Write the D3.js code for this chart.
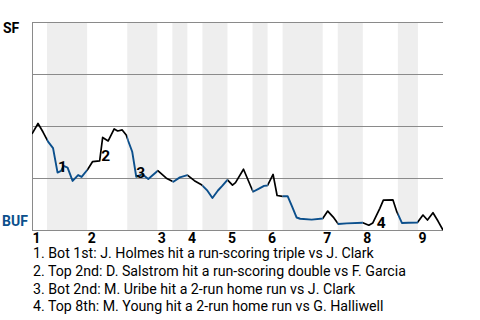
<!DOCTYPE html>
<html>
<head>
<meta charset="utf-8">
<script src="https://cdn.jsdelivr.net/npm/d3@7"></script>
<style>
  body { margin: 0; background: #fff; }
  text { font-family: Roboto, "Liberation Sans", sans-serif; }
</style>
</head>
<body>
<div id="chart"></div>
<script>
// half-inning boundaries, in plate appearances (top 1st starts at 0)
const halfInningBreaks = [0, 3, 11, 19, 25, 28, 31, 34, 39, 44, 47, 50, 58, 61, 66, 73, 77, 82];
const inningLabels = ["1", "2", "3", "4", "5", "6", "7", "8", "9"];

// win probability for SF
const eventIdx = [0, 1.2, 2.2, 3.2, 4.2, 5.1, 5.8, 6.3, 7.1, 8.1, 9.2, 9.9, 11.1, 12.1, 13.5, 14.1,
  15.2, 16.4, 17.1, 18.0, 18.8, 19.2, 20.0, 20.8, 22.0, 23.2, 25.1, 26.8, 28.2, 29.5, 31.0,
  32.4, 33.9, 34.9, 36.0, 37.1, 38.0, 39.0, 40.0, 40.6, 42.2, 44.1, 45.2, 46.3, 47.0, 48.1,
  48.9, 50.0, 51.0, 51.9, 52.8, 53.5, 55.8, 58.0, 59.0, 60.1, 61.1, 62.8, 66.0, 67.2, 68.0,
  69.4, 70.1, 72.0, 72.8, 73.8, 75.1, 76.9, 78.0, 78.9, 80.0, 81.0, 82.0];
const sfWinProb = [0.462, 0.512, 0.471, 0.425, 0.394, 0.276, 0.284, 0.308, 0.300, 0.236, 0.264,
  0.255, 0.291, 0.329, 0.332, 0.445, 0.428, 0.486, 0.476, 0.481, 0.457, 0.428, 0.376, 0.256,
  0.268, 0.245, 0.285, 0.249, 0.232, 0.253, 0.264, 0.237, 0.216, 0.192, 0.154, 0.190, 0.213,
  0.241, 0.216, 0.228, 0.292, 0.184, 0.198, 0.212, 0.214, 0.267, 0.166, 0.162, 0.163, 0.112,
  0.060, 0.054, 0.050, 0.055, 0.091, 0.062, 0.029, 0.032, 0.035, 0.023, 0.034, 0.104, 0.144,
  0.145, 0.087, 0.034, 0.035, 0.036, 0.072, 0.048, 0.083, 0.043, 0.0];

// key plays
const playIdx = [5.2, 13.8, 20.8, 68.8];
const playProb = [0.277, 0.332, 0.252, 0.012];
const playText = [
  "1. Bot 1st: J. Holmes hit a run-scoring triple vs J. Clark",
  "2. Top 2nd: D. Salstrom hit a run-scoring double vs F. Garcia",
  "3. Bot 2nd: M. Uribe hit a 2-run home run vs J. Clark",
  "4. Top 8th: M. Young hit a 2-run home run vs G. Halliwell"
];

const gridLevels = [0.25, 0.5, 0.75, 1];
const awayTeam = "SF", homeTeam = "BUF";

const width = 480, height = 320;
const margin = { top: 22, right: 37, bottom: 90, left: 32 };
const blue = "#0b4f8c";

const svg = d3.select("#chart").append("svg")
  .attr("width", width)
  .attr("height", height);

const x = d3.scaleLinear()
  .domain([0, d3.max(halfInningBreaks)])
  .range([margin.left, width - margin.right]);
const y = d3.scaleLinear()
  .domain([0, 1])
  .range([height - margin.bottom, margin.top]);

const halves = d3.pairs(halfInningBreaks).map((d, i) => ({ start: d[0], end: d[1], bottom: i % 2 === 1 }));

// shaded bottom halves
svg.append("g")
  .selectAll("rect")
  .data(halves.filter((d) => d.bottom))
  .join("rect")
  .attr("x", (d) => x(d.start))
  .attr("width", (d) => x(d.end) - x(d.start))
  .attr("y", y(1))
  .attr("height", y(0) - y(1))
  .attr("fill", "#eeeeee");

// grid
svg.append("g")
  .attr("shape-rendering", "crispEdges")
  .selectAll("line")
  .data([0].concat(gridLevels))
  .join("line")
  .attr("x1", x.range()[0])
  .attr("x2", x.range()[1])
  .attr("y1", (d) => Math.round(y(d)) + 0.5)
  .attr("y2", (d) => Math.round(y(d)) + 0.5)
  .attr("stroke", "#8a8a8a");
svg.append("line")
  .attr("shape-rendering", "crispEdges")
  .attr("x1", x(0) + 0.5).attr("x2", x(0) + 0.5)
  .attr("y1", y(1)).attr("y2", y(0))
  .attr("stroke", "#8a8a8a");

// clip per half so the line changes colour with the batting team
const defs = svg.append("defs");
["top", "bot"].forEach((name, k) => {
  defs.append("clipPath").attr("id", "clip-" + name)
    .selectAll("rect")
    .data(halves.filter((d) => d.bottom === (k === 1)))
    .join("rect")
    .attr("x", (d) => x(d.start))
    .attr("width", (d) => x(d.end) - x(d.start))
    .attr("y", 0)
    .attr("height", height);
});

const points = eventIdx.map((e, i) => [e, sfWinProb[i]]);
const line = d3.line().x((d) => x(d[0])).y((d) => y(d[1]));

svg.append("path")
  .datum(points)
  .attr("d", line)
  .attr("fill", "none")
  .attr("stroke", "#000")
  .attr("stroke-width", 1.7)
  .attr("stroke-linejoin", "round")
  .attr("clip-path", "url(#clip-top)");
svg.append("path")
  .datum(points)
  .attr("d", line)
  .attr("fill", "none")
  .attr("stroke", blue)
  .attr("stroke-width", 1.9)
  .attr("stroke-linejoin", "round")
  .attr("clip-path", "url(#clip-bot)");

// play markers
svg.append("g")
  .selectAll("text")
  .data(playIdx)
  .join("text")
  .attr("x", (d) => x(d))
  .attr("y", (d, i) => y(playProb[i]))
  .attr("font-size", 15.5)
  .attr("font-weight", "bold")
  .text((d, i) => i + 1);

// team labels
svg.append("text")
  .attr("x", 3).attr("y", y(1) + 11)
  .attr("font-size", 14).attr("font-weight", "bold")
  .text(awayTeam);
svg.append("text")
  .attr("x", 2).attr("y", y(0) - 4)
  .attr("font-size", 14).attr("font-weight", "bold")
  .attr("fill", blue)
  .text(homeTeam);

// inning numbers
svg.append("g")
  .selectAll("text")
  .data(inningLabels)
  .join("text")
  .attr("x", (d, i) => x(halfInningBreaks[i * 2]) + 0.5)
  .attr("y", y(0) + 12.5)
  .attr("font-size", 14)
  .attr("font-weight", "bold")
  .text((d) => d);

// play list
svg.append("g")
  .selectAll("text")
  .data(playText)
  .join("text")
  .attr("x", x(0) + 1)
  .attr("y", (d, i) => y(0) + 28 + i * 17.8)
  .attr("font-size", 14.2)
  .text((d) => d);
</script>
</body>
</html>
